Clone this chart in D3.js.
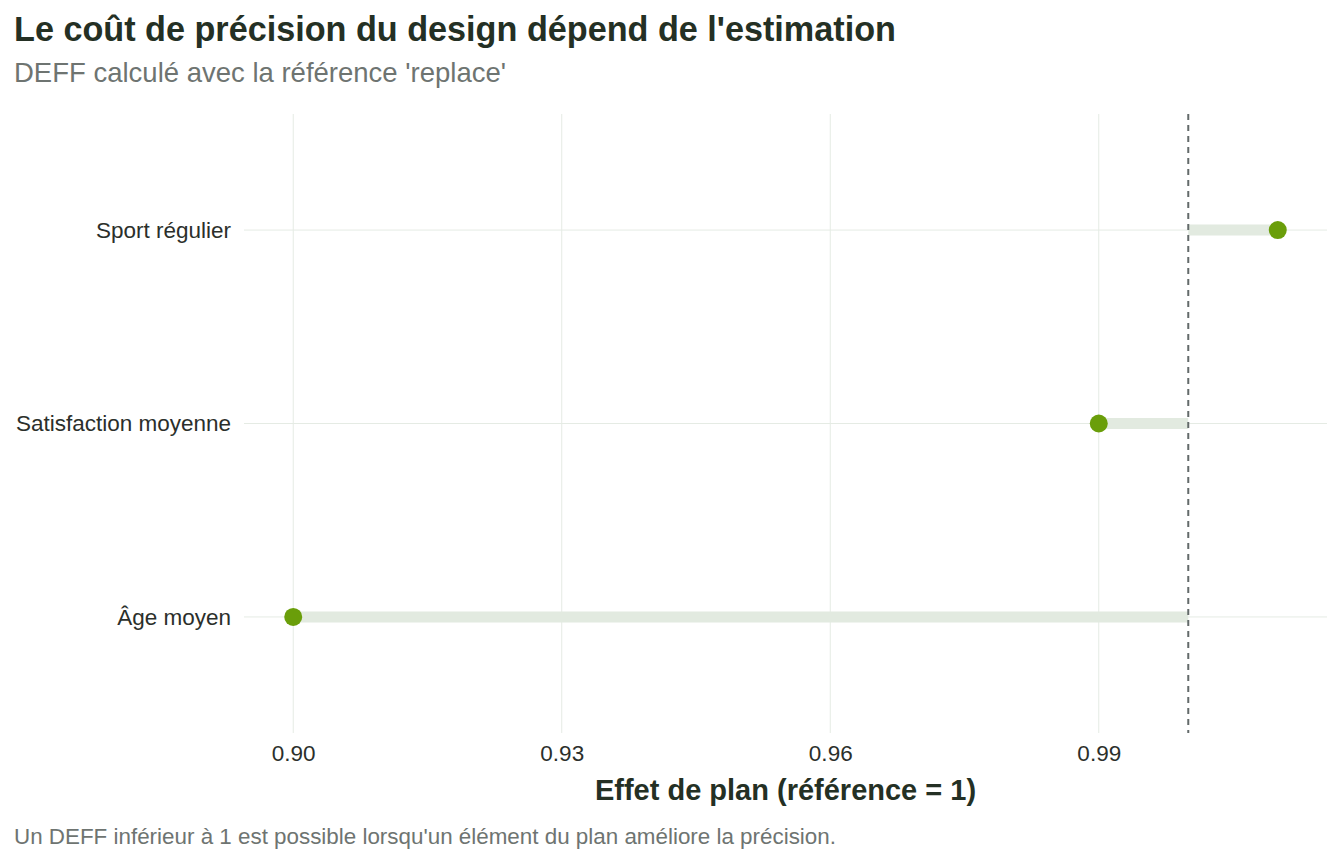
<!DOCTYPE html>
<html>
<head>
<meta charset="utf-8">
<script src="https://cdn.jsdelivr.net/npm/d3@7"></script>
<style>
  body { margin: 0; background: #fff; }
  svg text { font-family: "Liberation Sans", Arial, sans-serif; }
</style>
</head>
<body>
<svg id="chart" width="1344" height="864"></svg>
<script>
// data
var categories = ["Sport régulier", "Satisfaction moyenne", "Âge moyen"];
var deffValues = [1.01, 0.99, 0.90];
var reference = 1;
var xTicks = [0.90, 0.93, 0.96, 0.99];

var svg = d3.select("#chart"),
    plotLeft = 244, plotRight = 1327,
    plotTop = 114, plotBottom = 733;

// scales (5% expansion like ggplot)
var lo = d3.min(deffValues.concat([reference])), hi = d3.max(deffValues.concat([reference]));
var pad = (hi - lo) * 0.05;
var x = d3.scaleLinear().domain([lo - pad, hi + pad]).range([plotLeft, plotRight]);
var y = d3.scalePoint().domain(categories).range([plotTop, plotBottom]).padding(0.6);

// grid
svg.append("g").selectAll("line")
  .data(xTicks).enter().append("line")
  .attr("x1", d => x(d)).attr("x2", d => x(d))
  .attr("y1", plotTop).attr("y2", plotBottom)
  .attr("stroke", "#e5ebe4").attr("stroke-width", 1);

svg.append("g").selectAll("line")
  .data(categories).enter().append("line")
  .attr("x1", plotLeft).attr("x2", plotRight)
  .attr("y1", d => y(d)).attr("y2", d => y(d))
  .attr("stroke", "#e5ebe4").attr("stroke-width", 1);

// segments
svg.append("g").selectAll("line")
  .data(categories).enter().append("line")
  .attr("x1", x(reference))
  .attr("x2", (d, i) => x(deffValues[i]))
  .attr("y1", d => y(d)).attr("y2", d => y(d))
  .attr("stroke", "#e2eae0").attr("stroke-width", 11);

// reference line
svg.append("line")
  .attr("x1", x(reference)).attr("x2", x(reference))
  .attr("y1", plotTop).attr("y2", plotBottom)
  .attr("stroke", "#636a6a").attr("stroke-width", 2)
  .attr("stroke-dasharray", "6,5");

// points
svg.append("g").selectAll("circle")
  .data(categories).enter().append("circle")
  .attr("cx", (d, i) => x(deffValues[i]))
  .attr("cy", d => y(d))
  .attr("r", 9)
  .attr("fill", "#6a9e0a");

// axes
var xAxis = svg.append("g")
  .attr("transform", "translate(0," + plotBottom + ")")
  .call(d3.axisBottom(x).tickValues(xTicks).tickFormat(d3.format(".2f")).tickSize(0).tickPadding(12));
xAxis.select(".domain").remove();
xAxis.selectAll("text").style("font-size", "22.5px").attr("fill", "#2b2f2b");

var yAxis = svg.append("g")
  .attr("transform", "translate(" + plotLeft + ",0)")
  .call(d3.axisLeft(y).tickSize(0).tickPadding(13));
yAxis.select(".domain").remove();
yAxis.selectAll("text").style("font-size", "22.5px").attr("fill", "#2b2f2b");

// titles
svg.append("text")
  .attr("x", 14).attr("y", 41)
  .style("font-size", "34.2px").style("font-weight", "bold")
  .attr("fill", "#243024")
  .text("Le coût de précision du design dépend de l'estimation");

svg.append("text")
  .attr("x", 14).attr("y", 82)
  .style("font-size", "27.5px")
  .attr("fill", "#6e7471")
  .text("DEFF calculé avec la référence 'replace'");

svg.append("text")
  .attr("x", (plotLeft + plotRight) / 2).attr("y", 800)
  .attr("text-anchor", "middle")
  .style("font-size", "29px").style("font-weight", "bold")
  .attr("fill", "#243024")
  .text("Effet de plan (référence = 1)");

svg.append("text")
  .attr("x", 14).attr("y", 844)
  .style("font-size", "22.4px")
  .attr("fill", "#6e7471")
  .text("Un DEFF inférieur à 1 est possible lorsqu'un élément du plan améliore la précision.");
</script>
</body>
</html>
